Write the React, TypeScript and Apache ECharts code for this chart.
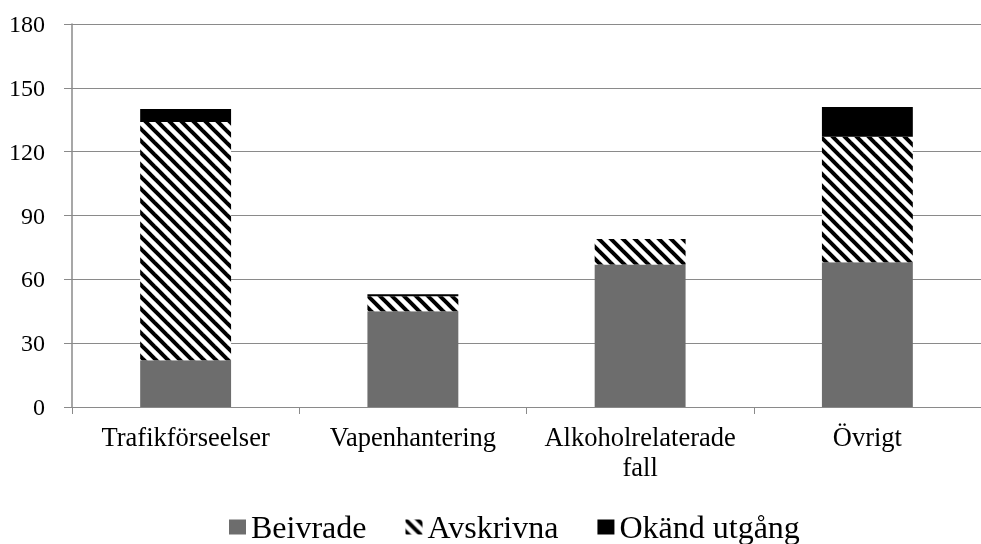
import React, { useEffect, useRef } from "react";
import * as echarts from "echarts";

const categories = ["Trafikförseelser", "Vapenhantering", "Alkoholrelaterade\nfall", "Övrigt"];
const beivrade = [22, 45, 67, 68];
const avskrivna = [112, 7, 12, 59];
const okand = [6, 1, 0, 14];
const yTicks = { min: 0, max: 180, interval: 30 };

function makeHatch() {
  const c = document.createElement("canvas");
  const s = 12;
  c.width = s;
  c.height = s;
  const ctx = c.getContext("2d")!;
  ctx.fillStyle = "#ffffff";
  ctx.fillRect(0, 0, s, s);
  ctx.strokeStyle = "#000000";
  ctx.lineWidth = 4;
  for (const k of [-s, 0, s]) {
    ctx.beginPath();
    ctx.moveTo(k - 2, -2);
    ctx.lineTo(k + s + 2, s + 2);
    ctx.stroke();
  }
  return c;
}

export default function App() {
  const ref = useRef<HTMLDivElement>(null);
  useEffect(() => {
    if (!ref.current) return;
    document.body.style.margin = "0";
    document.body.style.overflow = "hidden";
    const chart = echarts.init(ref.current, null, { renderer: "svg" });
    const hatch = makeHatch();
    const font = "Liberation Serif";
    chart.setOption({
      animation: false,
      textStyle: { fontFamily: font },
      grid: { left: 72, top: 24, width: 914, height: 383 },
      legend: {
        left: 224,
        top: 506,
        itemWidth: 17,
        itemHeight: 15,
        itemGap: 39,
        icon: "rect",
        textStyle: { fontSize: 32, color: "#000", fontFamily: font },
        data: ["Beivrade", "Avskrivna", "Okänd utgång"],
      },
      xAxis: {
        type: "category",
        data: categories,
        axisLine: { lineStyle: { color: "#8a8a8a", width: 1 } },
        axisTick: { show: true, interval: 0, length: 7, lineStyle: { color: "#8a8a8a" } },
        axisLabel: {
          interval: 0,
          hideOverlap: false,
          fontSize: 26.5,
          color: "#000",
          margin: 15,
          lineHeight: 30,
          fontFamily: font,
        },
      },
      yAxis: {
        type: "value",
        min: yTicks.min,
        max: yTicks.max,
        interval: yTicks.interval,
        axisLine: { show: true, lineStyle: { color: "#8a8a8a", width: 1.5 } },
        axisTick: { show: true, inside: false, length: 8, lineStyle: { color: "#8a8a8a" } },
        splitLine: { lineStyle: { color: "#8a8a8a", width: 1 } },
        axisLabel: { fontSize: 24, color: "#000", margin: 27, fontFamily: font },
      },
      series: [
        {
          name: "Beivrade",
          type: "bar",
          stack: "a",
          barWidth: "40%",
          data: beivrade,
          itemStyle: { color: "#6d6d6d" },
        },
        {
          name: "Avskrivna",
          type: "bar",
          stack: "a",
          barWidth: "40%",
          data: avskrivna,
          itemStyle: {
            color: { image: hatch, repeat: "repeat", imageWidth: 12, imageHeight: 12 },
          },
        },
        {
          name: "Okänd utgång",
          type: "bar",
          stack: "a",
          barWidth: "40%",
          data: okand,
          itemStyle: { color: "#000000" },
        },
      ],
    });
    return () => chart.dispose();
  }, []);
  return (
    <div
      ref={ref}
      style={{ position: "fixed", left: 0, top: 0, width: 981, height: 544 }}
    />
  );
}
